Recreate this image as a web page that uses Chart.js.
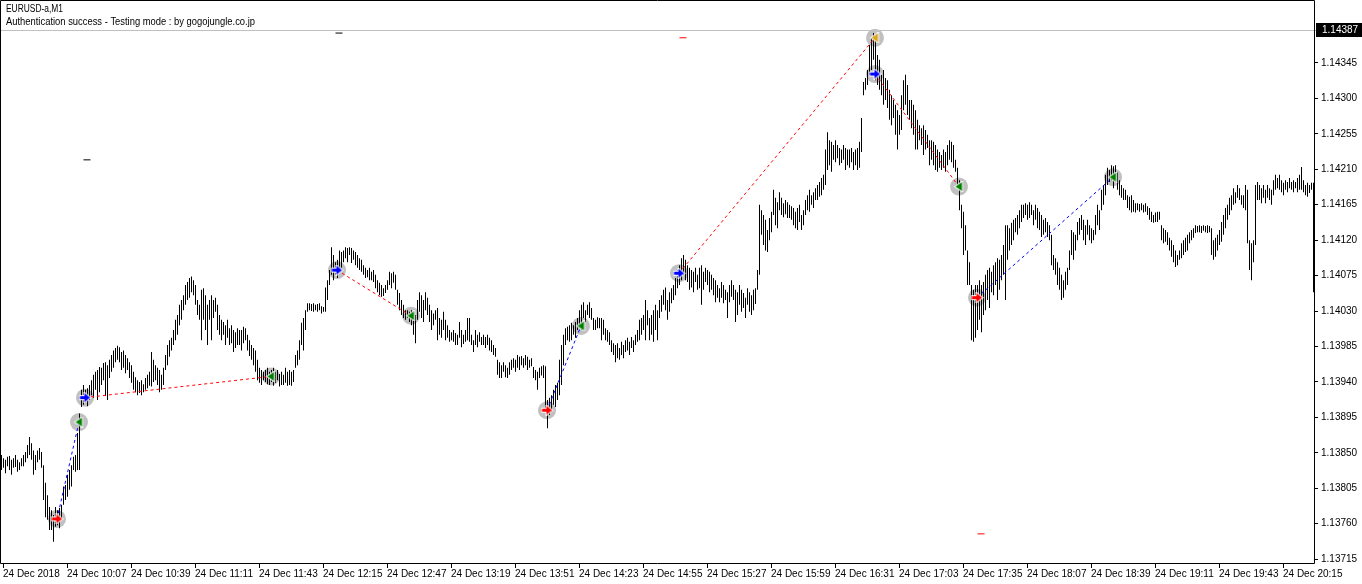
<!DOCTYPE html>
<html>
<head>
<meta charset="utf-8">
<script src="https://cdn.jsdelivr.net/npm/chart.js@4.4.0/dist/chart.umd.min.js"></script>
<style>
  html, body { margin: 0; padding: 0; background: #fff; }
</style>
</head>
<body>
<canvas id="c" width="1362" height="584"></canvas>
<script>
// EURUSD-a M1, one bar per minute from 09:34.
// prices stored in points above 1.13000 (847 -> 1.13847)
const hi = [
  847,843,841,845,846,841,843,847,841,838,843,
  847,851,860,870,862,853,847,853,856,851,834,
  812,796,781,777,771,781,777,780,784,807,809,822,828,834,845,847,875,900,
  930,936,930,932,936,942,949,953,955,959,958,964,965,961,968,974,980,983,986,984,
  978,980,974,970,965,961,953,946,942,940,942,937,945,949,953,978,968,961,958,955,
  949,958,974,987,993,996,1006,1019,1025,1038,1044,1050,1063,1067,1072,1074,1069,1063,1044,1038,
  1057,1059,1050,1038,1044,1050,1044,1047,1038,1025,1019,1016,1012,1019,1008,1012,1006,1003,1008,1006,
  1006,1010,1008,1000,993,987,983,980,968,958,955,953,955,958,953,955,958,953,955,950,
  953,949,958,953,955,953,955,974,980,993,1015,1021,1031,1040,1040,1039,1040,1038,1039,1040,
  1036,1035,1060,1069,1082,1111,1101,1092,1095,1107,1105,1107,1111,1110,1111,1110,1107,1105,1101,1097,
  1095,1088,1085,1082,1085,1080,1082,1076,1069,1066,1063,1059,1063,1069,1080,1078,1080,1076,1057,1053,
  1044,1038,1031,1031,1029,1031,1029,1025,1044,1054,1050,1044,1054,1047,1038,1031,1027,1031,1034,1021,
  1019,1029,1019,1012,1006,1003,1006,1002,1000,1016,1006,1000,1006,1021,1021,1000,993,1006,1000,1003,
  997,1000,997,1000,996,993,987,983,968,965,961,965,961,958,965,968,970,968,974,972,
  973,970,974,972,968,970,959,955,953,958,960,961,960,917,920,923,930,936,939,968,
  987,1000,1008,1010,1012,1015,1012,1016,1021,1031,1038,1041,1031,1038,1041,1034,1021,1019,1022,1021,
  1021,1019,1008,1006,1003,993,989,987,989,983,991,987,993,996,991,997,993,1000,1006,1019,
  1021,1025,1044,1031,1021,1025,1031,1038,1031,1044,1050,1057,1060,1044,1054,1059,1063,1072,1082,1088,
  1097,1101,1095,1088,1085,1082,1080,1085,1076,1085,1088,1080,1085,1082,1080,1076,1072,1069,1063,1059,
  1067,1063,1057,1054,1063,1069,1063,1057,1054,1063,1057,1053,1047,1059,1054,1050,1057,1059,1082,1165,
  1158,1152,1146,1133,1148,1156,1184,1174,1168,1181,1174,1167,1171,1168,1165,1163,1161,1156,1161,1165,
  1152,1158,1171,1177,1184,1177,1181,1186,1190,1194,1199,1203,1235,1257,1247,1245,1241,1247,1241,1237,
  1235,1241,1237,1235,1235,1237,1232,1235,1237,1245,1275,1321,1326,1336,1368,1377,1383,1381,1355,1349,
  1330,1336,1326,1323,1311,1304,1298,1292,1285,1279,1304,1323,1330,1317,1298,1298,1292,1285,1273,1266,
  1262,1266,1260,1254,1247,1247,1245,1241,1235,1232,1228,1235,1232,1241,1247,1245,1241,1222,1212,1196,
  1165,1156,1139,1107,1092,1063,1057,1063,1063,1069,1063,1067,1076,1082,1085,1080,1088,1092,1097,1095,
  1101,1114,1139,1139,1135,1142,1146,1148,1152,1158,1165,1165,1167,1165,1168,1165,1158,1165,1161,1156,
  1152,1146,1148,1143,1139,1127,1101,1097,1092,1085,1076,1069,1080,1085,1107,1133,1130,1127,1143,1148,
  1152,1146,1139,1146,1139,1135,1133,1152,1165,1158,1184,1190,1203,1212,1209,1215,1214,1215,1206,1196,
  1190,1186,1184,1177,1175,1177,1171,1167,1167,1166,1167,1165,1167,1163,1161,1156,1152,1155,1156,1156,
  1139,1135,1133,1130,1123,1120,1114,1107,1101,1107,1116,1120,1123,1127,1130,1133,1135,1139,1138,1139,
  1138,1139,1138,1139,1138,1135,1120,1123,1127,1133,1143,1152,1161,1165,1174,1177,1186,1181,1190,1186,
  1177,1177,1190,1184,1120,1116,1120,1190,1194,1190,1186,1190,1184,1190,1186,1184,1196,1203,1199,1203,
  1196,1193,1196,1194,1199,1194,1196,1194,1199,1203,1213,1196,1190,1193,1190,1193,1193
];
const lo = [
  828,831,824,833,828,822,831,832,826,828,833,
  833,838,843,847,841,822,828,838,841,831,790,
  768,765,752,752,737,756,758,754,765,784,790,794,803,807,828,826,828,828,
  908,911,914,909,917,923,920,930,917,927,936,942,922,917,945,953,958,965,968,965,
  955,958,951,955,945,939,930,927,923,926,923,927,930,932,935,934,940,942,936,927,
  930,936,955,961,972,980,987,993,1000,1012,1019,1031,1038,1044,1047,1054,1050,1038,1025,1019,
  993,1019,1006,987,1019,993,1021,1029,1006,1000,993,1000,987,996,987,989,978,983,987,987,
  980,989,993,980,973,968,961,953,942,939,936,942,940,937,936,940,935,939,942,934,
  936,936,939,935,936,935,940,958,961,968,987,980,1006,1029,1031,1030,1029,1031,1029,1031,
  1027,1029,1029,1044,1063,1076,1069,1076,1072,1082,1085,1092,1097,1092,1101,1091,1095,1088,1085,1082,
  1080,1076,1072,1073,1069,1069,1067,1059,1054,1050,1048,1049,1053,1057,1063,1059,1066,1057,1038,1031,
  1025,1021,1019,1021,1016,1012,1000,989,1019,1029,1021,1016,1031,1025,1016,1006,1012,1019,993,1000,
  996,1006,993,996,991,993,991,987,987,996,984,988,991,993,991,987,978,987,984,991,
  987,987,983,987,980,978,974,972,949,945,945,953,946,945,949,955,958,953,958,955,
  961,958,961,955,958,960,945,942,930,945,948,945,904,881,898,902,911,908,917,923,
  936,961,987,993,991,993,1000,996,1006,1012,1006,1021,1016,1025,1021,1019,1006,1006,1008,1008,
  993,1000,993,991,987,978,974,965,970,968,974,970,978,980,974,983,978,987,991,993,
  1000,1006,993,1012,993,1000,991,1006,993,1021,1029,1038,1031,1019,1029,1040,1044,1050,1059,1063,
  1069,1076,1069,1067,1057,1060,1054,1067,1057,1059,1038,1057,1067,1063,1054,1057,1050,1041,1047,1041,
  1047,1040,1044,1021,1041,1048,1044,1016,1025,1038,1029,1034,1021,1038,1029,1025,1031,1039,1057,1076,
  1127,1114,1107,1105,1120,1130,1152,1139,1135,1158,1152,1149,1153,1148,1148,1146,1139,1135,1133,1143,
  1133,1139,1152,1158,1156,1165,1161,1171,1171,1175,1177,1184,1190,1209,1215,1207,1222,1219,1224,1215,
  1218,1222,1209,1215,1212,1219,1209,1215,1209,1212,1232,1304,1311,1317,1330,1336,1349,1323,1317,1311,
  1304,1292,1298,1288,1273,1266,1275,1254,1235,1254,1260,1285,1292,1279,1273,1262,1254,1235,1235,1247,
  1241,1228,1235,1237,1215,1222,1215,1209,1207,1212,1209,1212,1207,1215,1222,1219,1212,1207,1190,1158,
  1135,1101,1107,1063,1063,993,991,996,1006,1019,1003,1025,1031,1044,1034,1054,1050,1063,1044,1057,
  1069,1076,1044,1095,1107,1114,1120,1130,1127,1135,1143,1148,1152,1146,1148,1152,1139,1146,1135,1133,
  1124,1127,1130,1124,1120,1088,1082,1076,1063,1057,1044,1047,1057,1063,1082,1101,1095,1107,1120,1127,
  1133,1120,1114,1127,1120,1116,1120,1127,1139,1133,1158,1165,1177,1190,1194,1196,1186,1193,1184,1177,
  1174,1171,1171,1161,1158,1155,1156,1155,1158,1156,1158,1155,1156,1152,1146,1143,1142,1143,1143,1146,
  1120,1116,1118,1114,1107,1099,1092,1086,1088,1095,1097,1101,1105,1107,1116,1120,1123,1129,1130,1130,
  1129,1132,1130,1129,1130,1101,1095,1099,1107,1114,1118,1127,1135,1146,1152,1158,1165,1167,1174,1171,
  1165,1161,1158,1116,1082,1069,1092,1114,1171,1171,1167,1174,1167,1174,1171,1165,1177,1184,1186,1184,
  1181,1177,1184,1181,1186,1184,1181,1186,1181,1184,1184,1181,1177,1175,1180,1184,1054
];

const tickLabels = ["24 Dec 2018", "24 Dec 10:07", "24 Dec 10:39", "24 Dec 11:11", "24 Dec 11:43",
  "24 Dec 12:15", "24 Dec 12:47", "24 Dec 13:19", "24 Dec 13:51", "24 Dec 14:23", "24 Dec 14:55",
  "24 Dec 15:27", "24 Dec 15:59", "24 Dec 16:31", "24 Dec 17:03", "24 Dec 17:35", "24 Dec 18:07",
  "24 Dec 18:39", "24 Dec 19:11", "24 Dec 19:43", "24 Dec 20:15"];
const yTicks = [1.13715, 1.13760, 1.13805, 1.13850, 1.13895, 1.13940, 1.13985, 1.14030,
  1.14075, 1.14120, 1.14165, 1.14210, 1.14255, 1.14300, 1.14345];
const bidPrice = 1.14387;

// trades: open bar / price, close bar / price (points)
const openIdx  = [28, 42, 168, 273, 339, 437, 488];
const openPx   = [766, 920, 1082, 904, 1078, 1331, 1047];
const openCol  = ["#ff0000", "#0000ff", "#0000ff", "#ff0000", "#0000ff", "#0000ff", "#ff0000"];
const closeIdx = [39, 135, 205, 290, 437, 479, 556];
const closePx  = [889, 947, 1024, 1011, 1377, 1188, 1200];
const closeCol = ["#008000", "#008000", "#008000", "#008000", "#daa520", "#008000", "#008000"];
const lineCol  = ["#0000ff", "#ff0000", "#ff0000", "#0000ff", "#ff0000", "#ff0000", "#0000ff"];

// short dash marks
const markIdx = [43, 169, 341, 490];
const markPx  = [1222, 1383, 1377, 747];
const markCol = ["#000000", "#000000", "#ff0000", "#ff0000"];

const toPrice = v => 1.13 + v / 100000;

const times = hi.map((_, i) => {
  const m = 9 * 60 + 34 + i;
  return String(Math.floor(m / 60)).padStart(2, "0") + ":" + String(m % 60).padStart(2, "0");
});

function arrowIcon(color, dir) {
  const c = document.createElement("canvas");
  c.width = 13; c.height = 11;
  const g = c.getContext("2d");
  g.beginPath();
  if (dir > 0) {
    g.moveTo(1.5, 4); g.lineTo(6, 4); g.lineTo(6, 1); g.lineTo(11.5, 5.5);
    g.lineTo(6, 10); g.lineTo(6, 7); g.lineTo(1.5, 7);
  } else {
    g.moveTo(3, 5.5); g.lineTo(9.5, 1); g.lineTo(9.5, 10);
  }
  g.closePath();
  g.strokeStyle = "#ffffff"; g.lineWidth = 2; g.stroke();
  g.fillStyle = color; g.fill();
  return c;
}

const font = { family: "Liberation Sans", size: 10 };

const circlePts = [];
openIdx.forEach((t, i) => circlePts.push({ x: times[t], y: toPrice(openPx[i]) }));
closeIdx.forEach((t, i) => circlePts.push({ x: times[t], y: toPrice(closePx[i]) }));

const arrowPts = circlePts.slice();
const arrowStyles = openCol.map(c => arrowIcon(c, 1)).concat(closeCol.map(c => arrowIcon(c, -1)));

const datasets = [
  {
    type: "line", order: 10, showLine: false, data: circlePts,
    pointRadius: 9, pointBackgroundColor: "#c0c0c0", pointBorderWidth: 0, pointHoverRadius: 9
  },
  {
    type: "bar", order: 5,
    data: hi.map((h, i) => [toPrice(lo[i]), toPrice(h)]),
    backgroundColor: "#000000", borderWidth: 0, barThickness: 1, inflateAmount: 0, borderSkipped: false
  }
];
openIdx.forEach((t, i) => {
  datasets.push({
    type: "line", order: 2,
    data: [{ x: times[t], y: toPrice(openPx[i]) }, { x: times[closeIdx[i]], y: toPrice(closePx[i]) }],
    borderColor: lineCol[i], borderWidth: 1, borderDash: [3, 3], pointRadius: 0, tension: 0
  });
});
datasets.push({
  type: "line", order: 1, showLine: false,
  data: markIdx.map((t, i) => ({ x: times[t], y: toPrice(markPx[i]) })),
  pointStyle: "line", pointRadius: 3.5, pointBorderColor: markCol, pointBorderWidth: 1
});
datasets.push({
  type: "line", order: 0, showLine: false, data: arrowPts,
  pointStyle: arrowStyles, pointRadius: 6
});

const mtDecor = {
  id: "mtDecor",
  beforeDatasetsDraw(chart) {
    const { ctx, chartArea } = chart;
    const y = Math.round(chart.scales.y.getPixelForValue(bidPrice)) + 0.5;
    ctx.save();
    ctx.strokeStyle = "#c0c0c0";
    ctx.lineWidth = 1;
    ctx.beginPath();
    ctx.moveTo(chartArea.left, y);
    ctx.lineTo(1316, y);
    ctx.stroke();
    ctx.restore();
  },
  // bar centres fall on whole pixels, shift half a pixel so 1px bars stay sharp
  beforeDatasetDraw(chart, args) {
    if (args.meta.type === "bar") {
      chart.ctx.save();
      chart.ctx.translate(0.5, 0);
    }
  },
  afterDatasetDraw(chart, args) {
    if (args.meta.type === "bar") chart.ctx.restore();
  },
  afterDatasetsDraw(chart) {
    const { ctx, chartArea } = chart;
    const r = Math.round(chartArea.right) + 0.5;
    const b = Math.round(chartArea.bottom) + 0.5;
    ctx.save();
    ctx.strokeStyle = "#000";
    ctx.lineWidth = 1;
    ctx.beginPath();
    ctx.moveTo(0.5, 0.5); ctx.lineTo(r, 0.5); ctx.lineTo(r, b); ctx.lineTo(0.5, b); ctx.closePath();
    ctx.stroke();

    // current price label
    const y = Math.round(chart.scales.y.getPixelForValue(bidPrice));
    ctx.fillStyle = "#000";
    ctx.fillRect(1316, y - 7, 46, 14);
    ctx.fillStyle = "#fff";
    ctx.font = '10px "Liberation Sans"';
    ctx.textBaseline = "middle";
    ctx.fillText(bidPrice.toFixed(5), 1322, y + 0.5);

    // header
    ctx.fillStyle = "#000";
    ctx.textBaseline = "alphabetic";
    ctx.fillText("EURUSD-a,M1", 6, 12, 57);
    ctx.fillText("Authentication success - Testing mode : by gogojungle.co.jp", 6, 25, 249);
    ctx.restore();
  }
};

new Chart(document.getElementById("c"), {
  data: { labels: times, datasets: datasets },
  options: {
    responsive: false,
    animation: false,
    devicePixelRatio: 1,
    layout: { autoPadding: false, padding: 0 },
    plugins: { legend: { display: false }, tooltip: { enabled: false } },
    scales: {
      x: {
        type: "category",
        offset: true,
        grid: { display: true, drawOnChartArea: false, drawTicks: true, tickLength: 5, color: "#000", offset: false },
        border: { display: false },
        ticks: {
          autoSkip: false, maxRotation: 0, minRotation: 0, align: "start", padding: 0,
          color: "#000", font: font,
          callback: (v) => tickLabels[(v - 1) / 32]
        },
        afterBuildTicks: s => { s.ticks = s.ticks.filter(t => t.value % 32 === 1); },
        afterFit: s => { s.height = 21; s.paddingLeft = 0; s.paddingRight = 0; }
      },
      y: {
        position: "right",
        min: 1.13710,
        max: 1.14425,
        grid: { drawOnChartArea: false, drawTicks: true, tickLength: 4, color: "#000" },
        border: { display: false },
        ticks: { padding: 3, color: "#000", font: font, callback: v => v.toFixed(5) },
        afterBuildTicks: s => { s.ticks = yTicks.map(v => ({ value: v })); },
        afterFit: s => { s.width = 48; s.paddingTop = 0; s.paddingBottom = 0; }
      }
    }
  },
  plugins: [mtDecor]
});
</script>
</body>
</html>
